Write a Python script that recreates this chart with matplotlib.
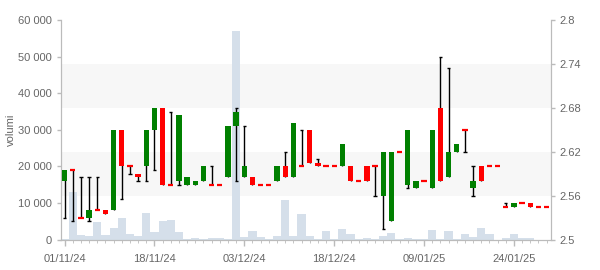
import matplotlib
matplotlib.use("Agg")
import matplotlib.pyplot as plt
import matplotlib.transforms as mtransforms
from matplotlib.patches import Rectangle
from matplotlib.ticker import FuncFormatter, MultipleLocator, FixedLocator
import numpy as np
import pandas as pd

# ---- data ----
holidays = ["2024-12-24", "2024-12-25", "2024-12-26", "2024-12-31", "2025-01-01"]
dates = [d for d in pd.bdate_range("2024-11-01", "2025-01-30")
         if d.strftime("%Y-%m-%d") not in holidays]

opens = [2.58, 2.595, 2.53, 2.53, 2.54, 2.54, 2.54, 2.65, 2.60, 2.59,
         2.60, 2.65, 2.68, 2.575, 2.58, 2.575, 2.575, 2.58, 2.575, 2.575,
         2.585, 2.655, 2.585, 2.585, 2.575, 2.575, 2.58, 2.60, 2.585, 2.60,
         2.65, 2.605, 2.60, 2.60, 2.60, 2.60, 2.58, 2.60, 2.60, 2.56,
         2.525, 2.62, 2.575, 2.57, 2.58, 2.57, 2.68, 2.585, 2.62, 2.65,
         2.57, 2.60, 2.60, 2.60, 2.545, 2.545, 2.55, 2.55, 2.545, 2.545]
highs = [2.595, 2.595, 2.585, 2.585, 2.585, 2.54, 2.65, 2.65, 2.60, 2.59,
         2.65, 2.68, 2.68, 2.675, 2.67, 2.585, 2.58, 2.60, 2.60, 2.575,
         2.655, 2.68, 2.655, 2.585, 2.575, 2.575, 2.60, 2.62, 2.66, 2.65,
         2.65, 2.61, 2.60, 2.60, 2.63, 2.60, 2.58, 2.60, 2.60, 2.62,
         2.62, 2.62, 2.65, 2.58, 2.58, 2.65, 2.75, 2.735, 2.63, 2.65,
         2.60, 2.60, 2.60, 2.60, 2.55, 2.55, 2.55, 2.55, 2.545, 2.545]
lows = [2.53, 2.525, 2.53, 2.525, 2.54, 2.535, 2.54, 2.555, 2.59, 2.58,
        2.58, 2.595, 2.575, 2.575, 2.575, 2.575, 2.575, 2.58, 2.575, 2.575,
        2.585, 2.58, 2.585, 2.575, 2.575, 2.575, 2.58, 2.585, 2.585, 2.60,
        2.605, 2.60, 2.60, 2.60, 2.60, 2.58, 2.58, 2.58, 2.56, 2.515,
        2.525, 2.62, 2.57, 2.57, 2.58, 2.57, 2.58, 2.585, 2.62, 2.62,
        2.56, 2.58, 2.60, 2.60, 2.545, 2.545, 2.55, 2.545, 2.545, 2.545]
closes = [2.595, 2.595, 2.53, 2.54, 2.54, 2.535, 2.65, 2.60, 2.60, 2.585,
          2.65, 2.68, 2.575, 2.575, 2.67, 2.585, 2.58, 2.60, 2.575, 2.575,
          2.655, 2.675, 2.60, 2.575, 2.575, 2.575, 2.60, 2.585, 2.66, 2.60,
          2.605, 2.60, 2.60, 2.60, 2.63, 2.58, 2.58, 2.58, 2.60, 2.62,
          2.62, 2.62, 2.65, 2.58, 2.58, 2.65, 2.58, 2.62, 2.63, 2.65,
          2.58, 2.58, 2.60, 2.60, 2.545, 2.55, 2.55, 2.545, 2.545, 2.545]
volumes = [300, 13000, 1300, 1000, 4800, 1300, 3200, 5900, 1500, 1000,
           7300, 2100, 5100, 5400, 2100, 100, 450, 200, 450, 450,
           200, 57000, 700, 2400, 700, 200, 1000, 10800, 1000, 7000,
           1000, 200, 2400, 200, 2900, 1500, 200, 450, 200, 1000,
           1800, 200, 450, 200, 200, 2600, 100, 2400, 100, 1500,
           700, 3200, 1500, 0, 450, 1500, 450, 450, 0, 0]
label_every = 11

# ---- styling ----
GREEN = "#008000"
RED = "#ff0000"
VOL = "#d5dfea"
BAND = "#f7f7f7"
TXT = "#666666"
AX = "#bbbbbb"
plt.rcParams["font.family"] = ["Liberation Sans", "DejaVu Sans"]
plt.rcParams["font.size"] = 8

fig = plt.figure(figsize=(6, 2.7), dpi=100)
ax = fig.add_axes([60.5 / 600, 1 - 239.7 / 270, (550.7 - 60.5) / 600, (239.7 - 20) / 270])
ax2 = ax.twinx()

x = np.arange(len(dates))

# bands (price scale) behind the volume bars
trans = mtransforms.blended_transform_factory(ax.transAxes, ax2.transData)
for lo, hi in [(2.56, 2.62), (2.68, 2.74)]:
    ax.add_patch(Rectangle((0, lo), 1, hi - lo, transform=trans,
                           facecolor=BAND, edgecolor="none", zorder=0))

ax.bar(x, volumes, width=1.0, color=VOL, edgecolor="none", zorder=1)
ax.set_ylim(0, 60000)
ax.set_xlim(-0.5, len(dates) - 0.5)
ax.yaxis.set_major_locator(MultipleLocator(10000))
ax.yaxis.set_major_formatter(FuncFormatter(lambda v, p: f"{int(v):,}".replace(",", " ")))
ax.set_ylabel("volumi", color=TXT, fontsize=8, labelpad=2)

o = np.array(opens); h = np.array(highs); l = np.array(lows); c = np.array(closes)
body_lo = np.minimum(o, c); body_hi = np.maximum(o, c)
up = c > o
colors = np.where(up, GREEN, RED)
bw = 0.65
cap = 0.4

# wicks
ax2.vlines(x, l, h, color="black", lw=1, zorder=2)
m_hi = h > body_hi
m_lo = l < body_lo
ax2.hlines(h[m_hi], x[m_hi] - cap / 2, x[m_hi] + cap / 2, color="black", lw=1, zorder=2)
ax2.hlines(l[m_lo], x[m_lo] - cap / 2, x[m_lo] + cap / 2, color="black", lw=1, zorder=2)

# bodies
doji = o == c
ax2.bar(x[~doji], (body_hi - body_lo)[~doji], bottom=body_lo[~doji], width=bw,
        color=colors[~doji], edgecolor="none", zorder=3)
ax2.bar(x[doji], np.zeros(doji.sum()), bottom=body_lo[doji], width=bw,
        color=RED, edgecolor=RED, lw=1.6, zorder=3)

ax2.set_ylim(2.5, 2.8)
ax2.set_yticks([2.5, 2.56, 2.62, 2.68, 2.74, 2.8])
ax2.set_yticklabels(["2.5", "2.56", "2.62", "2.68", "2.74", "2.8"])

# x ticks
ax.xaxis.set_major_locator(FixedLocator(list(x[::label_every])))
ax.set_xticklabels([dates[i].strftime("%d/%m/%y") for i in x[::label_every]])
ax.xaxis.set_minor_locator(FixedLocator(list(x)))

for a in (ax, ax2):
    for s in a.spines.values():
        s.set_color(AX)
    a.spines["top"].set_visible(False)
    a.tick_params(colors=AX, labelcolor=TXT, labelsize=8, length=3, width=1)
ax.tick_params(axis="x", which="minor", length=2, color=AX)
ax.tick_params(axis="x", which="major", length=4, pad=6)
ax2.tick_params(axis="y", pad=3)
ax.tick_params(axis="y", pad=3)

fig.savefig("out.png", dpi=100)
